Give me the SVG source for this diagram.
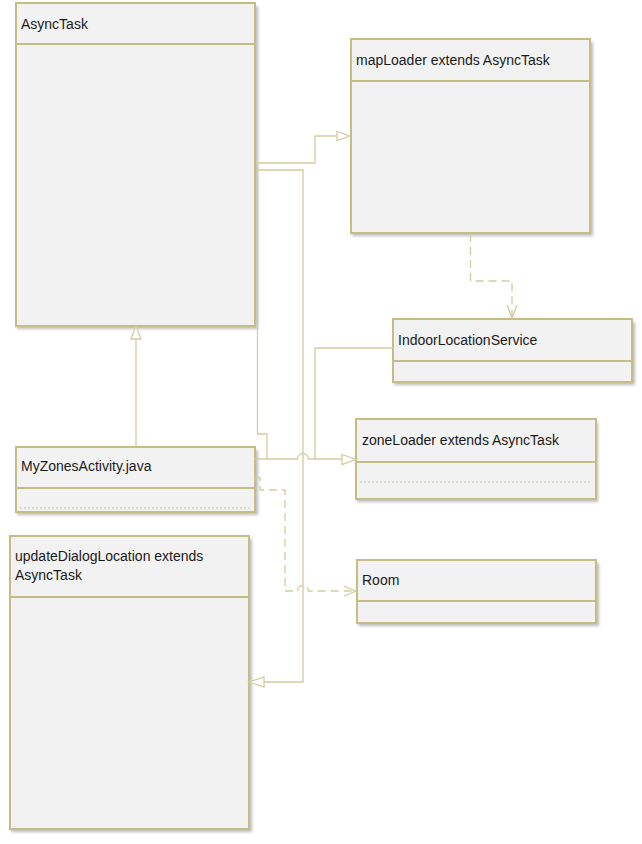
<svg xmlns="http://www.w3.org/2000/svg" width="642" height="844" viewBox="0 0 642 844">
<style>
.box{fill:#f2f2f2;stroke:#c4bd84;stroke-width:2}
.div{stroke:#c4bd84;stroke-width:2;fill:none}
.dot{stroke:#c9c38f;stroke-width:1;stroke-dasharray:2 2;fill:none}
.sh{fill:#bdbdbd;filter:url(#blur)}
.t{font-family:"Liberation Sans",Arial,sans-serif;font-size:14px;fill:#1a1a1a}
.ln{stroke:#d2cd9e;stroke-width:1.3;fill:none}
.dash{stroke:#d2cd9e;stroke-width:1.3;fill:none;stroke-dasharray:8 5}
.tri{fill:#ffffff;stroke:#d2cd9e;stroke-width:1.3}
</style>
<defs>
<filter id="blur" x="-10%" y="-10%" width="120%" height="130%"><feGaussianBlur stdDeviation="1.5"/></filter>
</defs>
<rect width="642" height="844" fill="#ffffff"/>

<g id="AsyncTask">
<rect class="sh" x="17" y="6" width="241" height="323"/>
<rect class="box" x="16" y="3" width="239" height="323"/>
<line class="div" x1="16" y1="44" x2="255" y2="44"/>
<text class="t" x="21" y="29">AsyncTask</text>
</g>

<g id="mapLoader">
<rect class="sh" x="352" y="42" width="241" height="194"/>
<rect class="box" x="351" y="39" width="239" height="194"/>
<line class="div" x1="351" y1="81" x2="590" y2="81"/>
<text class="t" x="356" y="65">mapLoader extends AsyncTask</text>
</g>

<g id="IndoorLocationService">
<rect class="sh" x="394" y="322" width="241" height="63"/>
<rect class="box" x="393" y="319" width="239" height="63"/>
<line class="div" x1="393" y1="361" x2="632" y2="361"/>
<text class="t" x="398" y="345">IndoorLocationService</text>
</g>

<g id="zoneLoader">
<rect class="sh" x="357" y="422" width="241" height="80"/>
<rect class="box" x="356" y="419" width="240" height="80"/>
<line class="div" x1="356" y1="462" x2="596" y2="462"/>
<line class="dot" x1="360" y1="482" x2="592" y2="482"/>
<text class="t" x="362" y="445">zoneLoader extends AsyncTask</text>
</g>

<g id="MyZonesActivity">
<rect class="sh" x="17" y="450" width="241" height="65"/>
<rect class="box" x="16" y="447" width="239" height="65"/>
<line class="div" x1="16" y1="488" x2="255" y2="488"/>
<line class="dot" x1="20" y1="508" x2="251" y2="508"/>
<text class="t" x="21" y="471">MyZonesActivity.java</text>
</g>

<g id="updateDialogLocation">
<rect class="sh" x="11" y="539" width="241" height="293"/>
<rect class="box" x="10" y="536" width="239" height="293"/>
<line class="div" x1="10" y1="597" x2="249" y2="597"/>
<text class="t" x="15" y="561">updateDialogLocation extends</text>
<text class="t" x="15" y="580">AsyncTask</text>
</g>

<g id="Room">
<rect class="sh" x="358" y="563" width="241" height="63"/>
<rect class="box" x="357" y="560" width="239" height="63"/>
<line class="div" x1="357" y1="601" x2="596" y2="601"/>
<text class="t" x="362" y="585">Room</text>
</g>

<g id="connectors">
<!-- to mapLoader -->
<path class="ln" d="M256 163 H315 V136 H337"/>
<polygon class="tri" points="337,131.5 350,136 337,140.5"/>
<!-- to zoneLoader -->
<path class="ln" d="M257.5 163 V434 H267 V459"/>
<path class="ln" d="M255 459 H297.5 A5.5 5.5 0 0 1 308.5 459 H342"/>
<polygon class="tri" points="342,454.5 356,459.5 342,464.5"/>
<!-- from IndoorLocationService -->
<path class="ln" d="M393 348 H315 V459"/>
<!-- to updateDialogLocation -->
<path class="ln" d="M257 170 H303 V682 H264"/>
<polygon class="tri" points="264,677 249,682 264,687"/>
<!-- MyZones to AsyncTask -->
<path class="ln" d="M136 446 V339"/>
<polygon class="tri" points="131,339 136,326 141,339"/>
<!-- mapLoader to IndoorLocationService (dashed) -->
<path class="dash" d="M470.5 234 V281 H512 V318"/>
<path class="ln" d="M507 305 L512 318 L517 305"/>
<!-- MyZones to Room (dashed) -->
<path class="dash" d="M255 478 H260 V490 H285 V591 H297.5"/>
<path class="dash" d="M297.5 591 A5.5 5.5 0 0 1 308.5 591 H356"/>
<path class="ln" d="M344 586 L356 591 L344 596"/>
</g>
</svg>
